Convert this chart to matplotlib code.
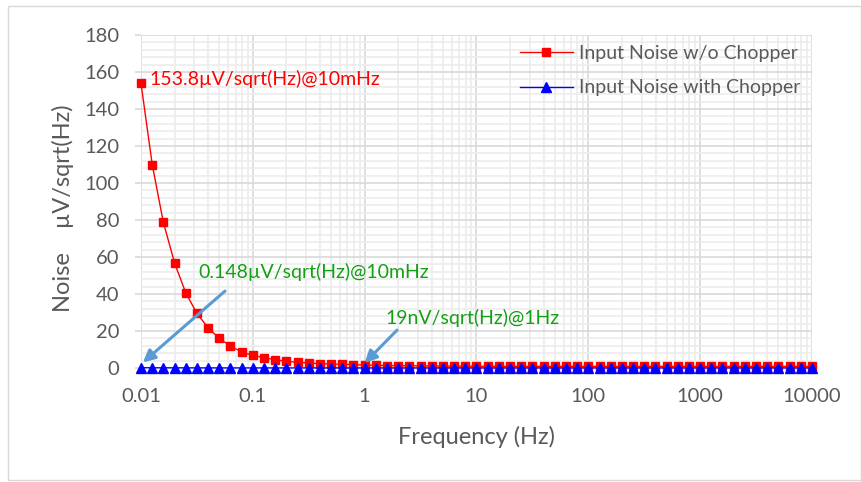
import matplotlib
matplotlib.use("Agg")
import matplotlib.pyplot as plt
from matplotlib.patches import Rectangle
from matplotlib.ticker import LogLocator, MultipleLocator, FixedLocator, FixedFormatter

plt.rcParams['font.family'] = ['Lato', 'DejaVu Sans']

# frequency points (Hz), 10 per decade
freq = [0.01, 0.0126, 0.0158, 0.02, 0.0251, 0.0316, 0.0398, 0.0501, 0.0631, 0.0794,
        0.1, 0.126, 0.158, 0.2, 0.251, 0.316, 0.398, 0.501, 0.631, 0.794,
        1, 1.26, 1.58, 2, 2.51, 3.16, 3.98, 5.01, 6.31, 7.94,
        10, 12.6, 15.8, 20, 25.1, 31.6, 39.8, 50.1, 63.1, 79.4,
        100, 126, 158, 200, 251, 316, 398, 501, 631, 794,
        1000, 1260, 1580, 2000, 2510, 3160, 3980, 5010, 6310, 7940, 10000]

# input noise without chopper (uV/sqrt(Hz))
noise_no_chop = [153.8, 110, 79, 56.6, 40.7, 29.5, 21.8, 16.0, 11.9, 8.6,
                 6.8, 5.6, 4.5, 3.6, 3.1, 2.7, 2.3, 2.2, 2.0, 1.8,
                 1.6, 1.45, 1.35, 1.25, 1.2, 1.15, 1.1, 1.05, 1.0, 1.0,
                 0.97, 0.95, 0.94, 0.93, 0.92, 0.92, 0.91, 0.91, 0.9, 0.9,
                 0.9, 0.9, 0.9, 0.9, 0.9, 0.9, 0.9, 0.9, 0.9, 0.9,
                 0.9, 0.9, 0.9, 0.9, 0.9, 0.9, 0.9, 0.9, 0.9, 0.9, 0.9]

# input noise with chopper (uV/sqrt(Hz))
noise_chop = [0.148, 0.118, 0.094, 0.076, 0.061, 0.05, 0.042, 0.036, 0.031, 0.027,
              0.025, 0.023, 0.022, 0.021, 0.02, 0.02, 0.02, 0.019, 0.019, 0.019,
              0.019, 0.019, 0.019, 0.019, 0.019, 0.019, 0.019, 0.019, 0.019, 0.019,
              0.019, 0.019, 0.019, 0.019, 0.019, 0.019, 0.019, 0.019, 0.019, 0.019,
              0.019, 0.019, 0.019, 0.019, 0.019, 0.019, 0.019, 0.019, 0.019, 0.019,
              0.019, 0.019, 0.019, 0.019, 0.019, 0.019, 0.019, 0.019, 0.019, 0.019, 0.019]

xticks = [0.01, 0.1, 1, 10, 100, 1000, 10000]
xtick_labels = ['0.01', '0.1', '1', '10', '100', '1000', '10000']

W, H = 861, 482
fig = plt.figure(figsize=(W / 100, H / 100), dpi=100)
ax = fig.add_axes([141 / W, 1 - 368 / H, (812 - 141) / W, (368 - 35) / H])

grid_major = '#D9D9D9'
grid_minor = '#ECECEC'
txt = '#595959'

ax.plot(freq, noise_no_chop, color='#FF0000', lw=1.0, marker='s', ms=6.3,
        label='Input Noise w/o Chopper', clip_on=False, zorder=4)
ax.plot(freq, noise_chop, color='#0000FF', lw=1.0, marker='^', ms=6.8,
        label='Input Noise with Chopper', clip_on=False, zorder=5)

ax.set_xscale('log')
ax.set_xlim(0.01, 10000)
ax.set_ylim(0, 180)
ax.xaxis.set_major_locator(FixedLocator(xticks))
ax.xaxis.set_major_formatter(FixedFormatter(xtick_labels))
ax.xaxis.set_minor_locator(LogLocator(base=10, subs=range(2, 10), numticks=20))
ax.yaxis.set_major_locator(MultipleLocator(20))
ax.yaxis.set_minor_locator(MultipleLocator(4))

ax.grid(which='minor', color=grid_minor, lw=1.2, zorder=0)
ax.grid(which='major', color=grid_major, lw=1.2, zorder=1)
ax.set_axisbelow(True)
for s in ax.spines.values():
    s.set_visible(False)

ax.tick_params(which='major', length=4.5, width=1.2, color=grid_major,
               labelsize=14.5, labelcolor=txt)
ax.tick_params(axis='y', which='major', pad=11)
ax.tick_params(axis='x', which='major', pad=10)
ax.tick_params(which='minor', length=0)

fig.text(476 / W, 1 - 437 / H, 'Frequency (Hz)', ha='center', va='center',
         fontsize=17, color=txt)
fig.text(63 / W, 1 - 208 / H, 'Noise    \u00b5V/sqrt(Hz)', ha='center', va='center',
         rotation=90, fontsize=17, color=txt)

ax.text(0.0120, 156.5, '153.8\u00b5V/sqrt(Hz)@10mHz', color='#FF0000',
        fontsize=14, ha='left', va='center')
ax.text(0.0324, 52, '0.148\u00b5V/sqrt(Hz)@10mHz', color='#14A014',
        fontsize=14, ha='left', va='center')
ax.text(1.55, 27, '19nV/sqrt(Hz)@1Hz', color='#14A014',
        fontsize=14, ha='left', va='center')

arrow = dict(arrowstyle='-|>', color='#5B9BD5', lw=2.2, mutation_scale=18,
             shrinkA=0, shrinkB=0)
ax.annotate('', xy=(0.0104, 3.0), xytext=(0.0564, 41.6), arrowprops=arrow, zorder=6)
ax.annotate('', xy=(1.0, 2.7), xytext=(1.95, 20.5), arrowprops=arrow, zorder=6)

ax.legend(loc='upper left', bbox_to_anchor=(520 / W, 1 - 45 / H),
          bbox_transform=fig.transFigure, frameon=False, fontsize=14,
          labelcolor=txt, handlelength=2.7, handletextpad=0.35,
          labelspacing=0.9, borderpad=0, borderaxespad=0)

fig.patches.append(Rectangle((8 / W, 2 / H), (W - 8) / W, (H - 8) / H,
                             transform=fig.transFigure, fill=False,
                             edgecolor='#D9D9D9', lw=1.0))

fig.savefig('out.png', dpi=100)
